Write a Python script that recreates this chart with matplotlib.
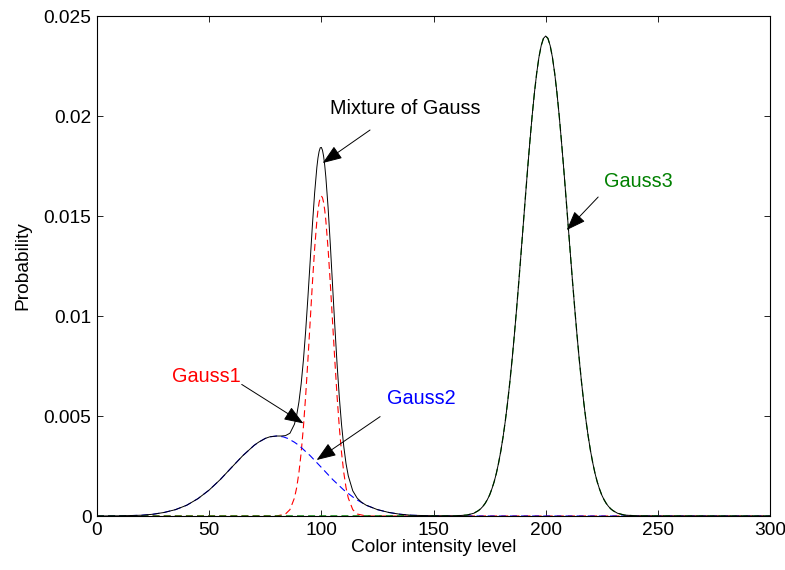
import matplotlib
matplotlib.use("Agg")
import matplotlib.pyplot as plt

plt.rcParams['font.family'] = ['Liberation Sans', 'DejaVu Sans']
plt.rcParams['lines.scale_dashes'] = False

# values
g3_grid = list(range(170, 231))
g3_vals = [0.00027, 0.00036, 0.00048, 0.00063, 0.00082, 0.00105, 0.00135, 0.00170, 0.00213,
           0.00265, 0.00325, 0.00395, 0.00475, 0.00566, 0.00667, 0.00779, 0.00901, 0.01031,
           0.01168, 0.01311, 0.01456, 0.01601, 0.01743, 0.01878, 0.02005, 0.02118, 0.02215,
           0.02294, 0.02352, 0.02388,
           0.02400,
           0.02388, 0.02352, 0.02294, 0.02215, 0.02118, 0.02005, 0.01878, 0.01743, 0.01601,
           0.01456, 0.01311, 0.01168, 0.01031, 0.00901, 0.00779, 0.00667, 0.00566, 0.00475,
           0.00395, 0.00325, 0.00265, 0.00213, 0.00170, 0.00135, 0.00105, 0.00082, 0.00063,
           0.00048, 0.00036, 0.00027]

x_mix = ([0, 10, 20, 25, 30, 35, 40, 45, 50, 55, 60, 65, 70, 72, 75, 77, 80, 82, 84, 86, 88, 89,
          90, 91, 92, 93, 94, 95, 96, 97, 98, 98.5, 99, 99.5, 100, 100.5, 101, 101.5, 102, 103,
          104, 105, 106, 107, 108, 109, 110, 111, 112, 114, 116, 118, 120, 125, 130, 135, 140,
          150, 160, 165, 168]
         + g3_grid + [232, 235, 240, 250, 300])
y_mix = ([0, 0.00001, 0.00004, 0.00009, 0.00018, 0.00032, 0.00054, 0.00087, 0.00130, 0.00183,
          0.00243, 0.00302, 0.00353, 0.00369, 0.00388, 0.00396, 0.00400, 0.00400, 0.00402,
          0.00414, 0.00459, 0.00504,
          0.00570, 0.00661, 0.00779, 0.00924, 0.01092, 0.01272, 0.01453, 0.01615, 0.01744,
          0.01791, 0.01823, 0.01841, 0.01843, 0.01829, 0.01799, 0.01754, 0.01695, 0.01543,
          0.01357, 0.01153, 0.00951, 0.00761, 0.00595, 0.00457, 0.00347, 0.00262, 0.00201,
          0.00126, 0.00089, 0.00068, 0.00054, 0.00032, 0.00018, 0.00009, 0.00004,
          0.00001, 0.00001, 0.00005, 0.00014]
         + g3_vals + [0.00014, 0.00005, 0.00001, 0, 0])

x_g1 = [0, 80, 84, 86, 88, 89, 90, 91, 92, 93, 94, 95, 96, 97, 98, 98.5, 99, 99.5, 100, 100.5,
        101, 101.5, 102, 103, 104, 105, 106, 107, 108, 109, 110, 111, 112, 114, 116, 120, 300]
y_g1 = [0, 0, 0.00010, 0.00032, 0.00090, 0.00142, 0.00217, 0.00317, 0.00445, 0.00600,
        0.00779, 0.00970, 0.01162, 0.01336, 0.01477, 0.01530, 0.01568, 0.01592, 0.01600,
        0.01592, 0.01568, 0.01530, 0.01477, 0.01336, 0.01162, 0.00970, 0.00779, 0.00600,
        0.00445, 0.00317, 0.00217, 0.00142, 0.00090, 0.00032, 0.00010, 0, 0]

x_g2 = [0, 10, 15, 20, 25, 30, 35, 40, 45, 50, 55, 60, 65, 70, 72, 75, 77, 80, 83, 85, 88, 90,
        95, 100, 105, 110, 115, 120, 125, 130, 135, 140, 145, 150, 160, 300]
y_g2 = [0, 0.00001, 0.00002, 0.00004, 0.00009, 0.00018, 0.00032, 0.00054, 0.00087, 0.00130,
        0.00183, 0.00243, 0.00302, 0.00353, 0.00369, 0.00388, 0.00396, 0.00400, 0.00396,
        0.00388, 0.00369, 0.00353, 0.00302, 0.00243, 0.00183, 0.00130, 0.00087, 0.00054,
        0.00032, 0.00018, 0.00009, 0.00004, 0.00002, 0.00001, 0, 0]

x_g3 = [0, 160, 165, 168] + g3_grid + [232, 235, 240, 300]
y_g3 = [0, 0.00001, 0.00005, 0.00014] + g3_vals + [0.00014, 0.00005, 0.00001, 0]

xticks = [0, 50, 100, 150, 200, 250, 300]
yticks = [0, 0.005, 0.01, 0.015, 0.02, 0.025]
ytick_labels = ['0', '0.005', '0.01', '0.015', '0.02', '0.025']

# labels: text, text pos, arrow tail, arrow head, colour
notes = [
    ("Mixture of Gauss", (103.9, 0.0204), (121.7, 0.0193), (100.6, 0.01765), 'black'),
    ("Gauss1", (33.3, 0.00697), (64.5, 0.00658), (92.0, 0.00463), 'red'),
    ("Gauss2", (129.4, 0.00587), (126.2, 0.00497), (97.9, 0.0028), 'blue'),
    ("Gauss3", (226.0, 0.01673), (223.4, 0.01595), (209.4, 0.0143), '#008000'),
]

fig = plt.figure(figsize=(7.85, 5.70), dpi=100)
ax = fig.add_axes([0.1236, 0.0947, 0.8573, 0.8772])

dash = (0, (5, 3))
ax.plot(x_g1, y_g1, color='red', lw=0.8, linestyle=dash, zorder=2)
ax.plot(x_g2, y_g2, color='blue', lw=0.8, linestyle=dash, zorder=2)
ax.plot(x_g3, y_g3, color='#008000', lw=0.9, linestyle=dash, zorder=2)
ax.plot(x_mix, y_mix, color='black', lw=0.7, zorder=3)

for txt, pos, tail, head, col in notes:
    ax.text(pos[0], pos[1], txt, color=col, fontsize=14.3, ha='left', va='center')
    ax.annotate('', xy=head, xytext=tail,
                arrowprops=dict(arrowstyle='-|>,head_length=1.2,head_width=0.45',
                                color='black', lw=0.7, shrinkA=0, shrinkB=0,
                                mutation_scale=10))

ax.set_xlim(0, 300)
ax.set_ylim(0, 0.025)
ax.set_xticks(xticks)
ax.set_yticks(yticks)
ax.set_yticklabels(ytick_labels)
ax.tick_params(direction='in', top=True, right=True, length=4.5, width=0.6,
               labelsize=13.8, pad=4)
for s in ax.spines.values():
    s.set_linewidth(0.8)

ax.set_xlabel('Color intensity level', fontsize=13.8, labelpad=0)
ax.set_ylabel('Probability', fontsize=13.8, labelpad=9)

fig.savefig('out.png', dpi=100)
